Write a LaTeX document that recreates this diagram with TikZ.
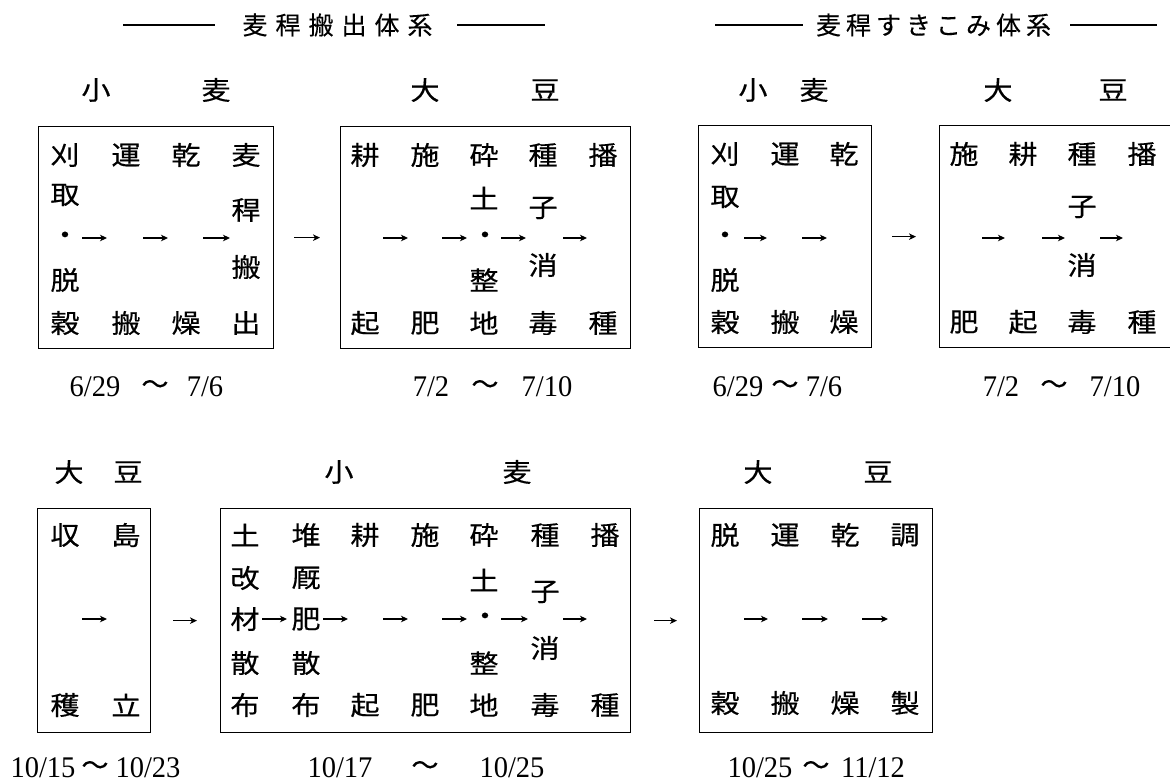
\documentclass[tikz,border=0pt]{standalone}
\usepackage{fontspec}
\setmainfont{Liberation Serif}
\newfontfamily\jp[FakeStretch=1.12,FakeBold=0.4]{Noto Sans CJK JP}
\newfontfamily\jpt[FakeBold=0.3]{Noto Sans CJK JP}
\newfontfamily\dig[FakeStretch=0.95]{Liberation Serif}
\usetikzlibrary{arrows.meta}
\tikzset{
  jc/.style={font=\jp\fontsize{26pt}{26pt}\selectfont, inner sep=0pt},
  ttl/.style={font=\jpt\fontsize{25pt}{25pt}\selectfont, inner sep=0pt},
  dt/.style={font=\dig\fontsize{30pt}{30pt}\selectfont, inner sep=0pt},
  tld/.style={font=\jpt\fontsize{27pt}{27pt}\selectfont, inner sep=0pt},
  box/.style={draw, line width=1.3pt, anchor=north west, inner sep=0pt},
  harrow/.style={line width=1.2pt, -{Stealth[length=7pt,width=6.5pt,inset=2pt]}},
  rule/.style={line width=1.3pt},
}
\newcommand\jc[4]{\node[jc] (#1) at (#2,#3) {#4};}
\newcommand\harr[4]{\coordinate (#1s) at (#2,#4); \coordinate (#1e) at (#3,#4); \draw[harrow] (#1s) -- (#1e);}
\begin{document}
\begin{tikzpicture}[x=1pt,y=-1pt]
\useasboundingbox (0,0) rectangle (1170,782);

% titles
\node[ttl] (t1) at (337.5,25) {麦\hspace{8pt}稈\hspace{8pt}搬\hspace{8pt}出\hspace{8pt}体\hspace{8pt}系};
\coordinate (t1la) at (123,25); \coordinate (t1lb) at (215,25);
\coordinate (t1ra) at (457,25); \coordinate (t1rb) at (545,25);
\draw[rule] (t1la) -- (t1lb); \draw[rule] (t1ra) -- (t1rb);
\node[ttl] (t2) at (933.5,25) {麦\hspace{5pt}稈\hspace{5pt}す\hspace{5pt}き\hspace{5pt}こ\hspace{5pt}み\hspace{5pt}体\hspace{5pt}系};
\coordinate (t2la) at (715,25); \coordinate (t2lb) at (803,25);
\coordinate (t2ra) at (1070,25); \coordinate (t2rb) at (1157,25);
\draw[rule] (t2la) -- (t2lb); \draw[rule] (t2ra) -- (t2rb);

% headings top
\jc{h1}{96}{90}{小} \jc{h2}{216}{90}{麦}
\jc{h3}{425}{90}{大} \jc{h4}{545}{90}{豆}
\jc{h5}{753}{90}{小} \jc{h6}{814}{90}{麦}
\jc{h7}{998}{90}{大} \jc{h8}{1113}{90}{豆}
% headings bottom
\jc{h9}{69}{472}{大} \jc{h10}{128}{472}{豆}
\jc{h11}{339}{472}{小} \jc{h12}{517}{472}{麦}
\jc{h13}{758}{472}{大} \jc{h14}{878}{472}{豆}

% boxes
\node[box, minimum width=235pt, minimum height=222pt] (b1) at (38,126) {};
\node[box, minimum width=290pt, minimum height=222pt] (b2) at (340,126) {};
\node[box, minimum width=173pt, minimum height=222pt] (b3) at (698,125) {};
\node[box, minimum width=245pt, minimum height=222pt] (b4) at (939,125) {};
\node[box, minimum width=113pt, minimum height=224pt] (b5) at (37,508) {};
\node[box, minimum width=410pt, minimum height=224pt] (b6) at (220,508) {};
\node[box, minimum width=233pt, minimum height=224pt] (b7) at (699,508) {};

% box 1
\jc{a1}{65}{155}{刈} \jc{a2}{65}{195}{取} \jc{a3}{65}{238}{・} \jc{a4}{65}{280}{脱} \jc{a5}{65}{323}{穀}
\jc{a6}{126}{155}{運} \jc{a7}{126}{323}{搬}
\jc{a8}{186}{155}{乾} \jc{a9}{186}{323}{燥}
\jc{a10}{246}{155}{麦} \jc{a11}{246}{210}{稈} \jc{a12}{246}{267}{搬} \jc{a13}{246}{323}{出}
\harr{r1}{82}{107}{238} \harr{r2}{143}{168}{238} \harr{r3}{203}{230}{238}

% box 2
\jc{c1}{365}{155}{耕} \jc{c2}{365}{323}{起}
\jc{c3}{425}{155}{施} \jc{c4}{425}{323}{肥}
\jc{c5}{484}{155}{砕} \jc{c6}{484}{198}{土} \jc{c7}{485}{238}{・} \jc{c8}{484}{280}{整} \jc{c9}{484}{323}{地}
\jc{c10}{543}{155}{種} \jc{c11}{543}{208}{子} \jc{c12}{543}{265}{消} \jc{c13}{543}{323}{毒}
\jc{c14}{603}{155}{播} \jc{c15}{603}{323}{種}
\harr{r4}{383}{408}{238} \harr{r5}{442}{467}{238} \harr{r6}{501}{526}{238} \harr{r7}{563}{587}{238}

% box 3
\jc{e1}{725}{154}{刈} \jc{e2}{725}{197}{取} \jc{e3}{725}{238}{・} \jc{e4}{725}{280}{脱} \jc{e5}{725}{322}{穀}
\jc{e6}{785}{154}{運} \jc{e7}{785}{322}{搬}
\jc{e8}{844}{154}{乾} \jc{e9}{844}{322}{燥}
\harr{r8}{744}{767}{238} \harr{r9}{802}{827}{238}

% box 4
\jc{f1}{964}{154}{施} \jc{f2}{964}{322}{肥}
\jc{f3}{1023}{154}{耕} \jc{f4}{1023}{322}{起}
\jc{f5}{1082}{154}{種} \jc{f6}{1082}{207}{子} \jc{f7}{1082}{265}{消} \jc{f8}{1082}{322}{毒}
\jc{f9}{1142}{154}{播} \jc{f10}{1142}{322}{種}
\harr{r10}{982}{1005}{238} \harr{r11}{1042}{1065}{238} \harr{r12}{1100}{1123}{238}

% box 5
\jc{g1}{65}{535}{収} \jc{g2}{65}{705}{穫} \jc{g3}{126}{535}{島} \jc{g4}{126}{705}{立}
\harr{r13}{82}{107}{619}

% box 6
\jc{k1}{245}{535}{土} \jc{k2}{245}{578}{改} \jc{k3}{245}{619}{材} \jc{k4}{245}{663}{散} \jc{k5}{245}{705}{布}
\jc{k6}{306}{535}{堆} \jc{k7}{306}{578}{厩} \jc{k8}{306}{619}{肥} \jc{k9}{306}{663}{散} \jc{k10}{306}{705}{布}
\jc{k11}{365}{535}{耕} \jc{k12}{365}{705}{起}
\jc{k13}{425}{535}{施} \jc{k14}{425}{705}{肥}
\jc{k15}{484}{535}{砕} \jc{k16}{484}{580}{土} \jc{k17}{485}{619}{・} \jc{k18}{484}{663}{整} \jc{k19}{484}{705}{地}
\jc{k20}{545}{535}{種} \jc{k21}{545}{592}{子} \jc{k22}{545}{648}{消} \jc{k23}{545}{705}{毒}
\jc{k24}{605}{535}{播} \jc{k25}{605}{705}{種}
\harr{r14}{262}{287}{619} \harr{r15}{323}{348}{619} \harr{r16}{383}{408}{619}
\harr{r17}{442}{467}{619} \harr{r18}{501}{528}{619} \harr{r19}{563}{587}{619}

% box 7
\jc{m1}{725}{535}{脱} \jc{m2}{725}{703}{穀} \jc{m3}{785}{535}{運} \jc{m4}{785}{703}{搬}
\jc{m5}{845}{535}{乾} \jc{m6}{845}{703}{燥} \jc{m7}{905}{535}{調} \jc{m8}{905}{703}{製}
\harr{r20}{744}{768}{619} \harr{r21}{802}{828}{619} \harr{r22}{862}{888}{619}

% arrows between boxes
\draw[harrow] ([xshift=20pt]b1.east) -- ([xshift=-20pt]b2.west);
\draw[harrow] ([xshift=20pt]b3.east) -- ([xshift=-23pt]b4.west);
\draw[harrow] ([xshift=22pt]b5.east) -- ([xshift=-23pt]b6.west);
\draw[harrow] ([xshift=23pt]b6.east) -- ([xshift=-22pt]b7.west);

% dates top
\node[dt] (d1) at (95,387) {6/29}; \node[tld] (d2) at (155,387) {～}; \node[dt] (d3) at (205,387) {7/6};
\node[dt] (d4) at (431,387) {7/2}; \node[tld] (d5) at (485,387) {～}; \node[dt] (d6) at (547,387) {7/10};
\node[dt] (d7) at (738,387) {6/29}; \node[tld] (d8) at (785,387) {～}; \node[dt] (d9) at (824,387) {7/6};
\node[dt] (d10) at (1001,387) {7/2}; \node[tld] (d11) at (1054,387) {～}; \node[dt] (d12) at (1115,387) {7/10};
% dates bottom
\node[dt] (d13) at (43,768) {10/15}; \node[tld] (d14) at (95,768) {～}; \node[dt] (d15) at (148,768) {10/23};
\node[dt] (d16) at (340,768) {10/17}; \node[tld] (d17) at (425,768) {～}; \node[dt] (d18) at (512,768) {10/25};
\node[dt] (d19) at (760,768) {10/25}; \node[tld] (d20) at (816,768) {～}; \node[dt] (d21) at (873,768) {11/12};
\end{tikzpicture}
\end{document}
